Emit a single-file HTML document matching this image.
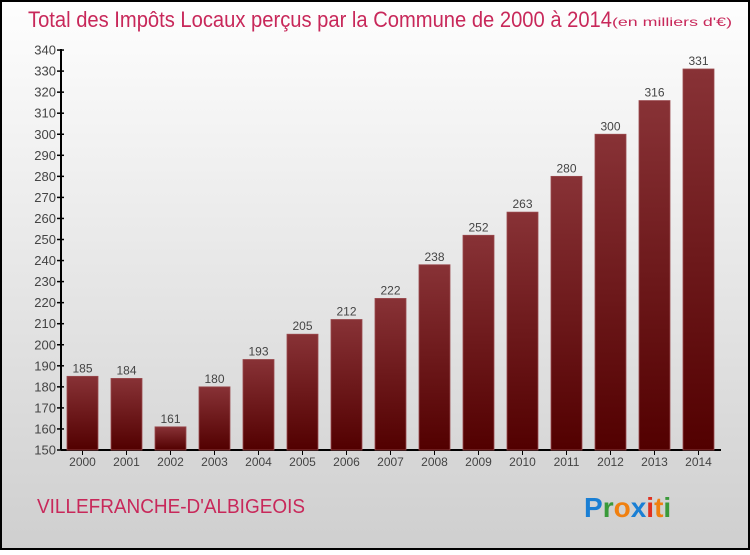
<!DOCTYPE html>
<html><head><meta charset="utf-8"><style>
html,body{margin:0;padding:0}
body{width:750px;height:550px;overflow:hidden;font-family:"Liberation Sans",sans-serif}
</style></head><body>
<svg id="chart" width="750" height="550" xmlns="http://www.w3.org/2000/svg">
<defs>
<linearGradient id="bg" x1="0" y1="0" x2="0" y2="1"><stop offset="0" stop-color="#fefefe"/><stop offset="1" stop-color="#cfcfcf"/></linearGradient>
<linearGradient id="bar" x1="0" y1="0" x2="0" y2="1"><stop offset="0" stop-color="#883236"/><stop offset="1" stop-color="#520000"/></linearGradient>
</defs>
<rect x="1" y="1" width="748" height="548" fill="url(#bg)" stroke="#000" stroke-width="2"/>
<text x="28" y="27" font-size="22" fill="#c8285a" textLength="584" lengthAdjust="spacingAndGlyphs">Total des Impôts Locaux perçus par la Commune de 2000 à 2014</text>
<text x="612" y="26" font-size="12" fill="#c8285a" textLength="120" lengthAdjust="spacingAndGlyphs">(en milliers d'€)</text>
<g id="axes"></g>
<g id="bars"></g>
<text x="37" y="513" font-size="20" fill="#c8285a" textLength="268" lengthAdjust="spacingAndGlyphs">VILLEFRANCHE-D'ALBIGEOIS</text>
<text x="584" y="517" font-size="28" font-weight="bold"><tspan fill="#1a7fd4">P</tspan><tspan fill="#3a9a3a">r</tspan><tspan fill="#f08010">o</tspan><tspan fill="#1a7fd4">x</tspan><tspan fill="#e03020">i</tspan><tspan fill="#f08010">t</tspan><tspan fill="#3a9a3a">i</tspan></text>
</svg>
<script>
const years=["2000","2001","2002","2003","2004","2005","2006","2007","2008","2009","2010","2011","2012","2013","2014"];
const values=[185,184,161,180,193,205,212,222,238,252,263,280,300,316,331];
const yTicks=[150,160,170,180,190,200,210,220,230,240,250,260,270,280,290,300,310,320,330,340];
const NS="http://www.w3.org/2000/svg";
const y0=450,yScale=2.105,yMin=150;
function y(v){return y0-(v-yMin)*yScale;}
function xc(i){return 82.5+i*44;}
function mk(t,a,p,txt){const e=document.createElementNS(NS,t);for(const k in a)e.setAttribute(k,a[k]);if(txt!==undefined)e.textContent=txt;p.appendChild(e);return e;}
const ax=document.getElementById('axes'),bg=document.getElementById('bars');
let l=mk('line',{x1:61,y1:y(340)-1,x2:61,y2:y0,stroke:'#000','stroke-width':2},ax);


l=mk('line',{x1:61,y1:y0,x2:721,y2:y0,stroke:'#000','stroke-width':2},ax);


yTicks.forEach(v=>{
 const t=mk('line',{x1:57,y1:y(v),x2:64,y2:y(v),stroke:'#000','stroke-width':1.5},ax);
 
 
 const tx=mk('text',{x:56,y:y(v)+4.5,'font-size':13,'text-anchor':'end',fill:'#444'},ax,String(v));
 
 
});
years.forEach((yr,i)=>{
 const v=values[i],c=xc(i);
 const r=mk('rect',{x:c-15.5,y:y(v),width:31,height:y0-y(v),fill:'url(#bar)',stroke:'#9a4a4e','stroke-width':0.8},bg);
 
 
 const vl=mk('text',{x:c,y:y(v)-4,'font-size':12,'text-anchor':'middle',fill:'#444'},bg,String(v));
 
 
 const tk=mk('line',{x1:c,y1:y0,x2:c,y2:y0+5,stroke:'#000'},ax);
 
 
 const xl=mk('text',{x:c,y:y0+16,'font-size':12,'text-anchor':'middle',fill:'#444'},ax,yr);
 
 
});
</script>
</body></html>
